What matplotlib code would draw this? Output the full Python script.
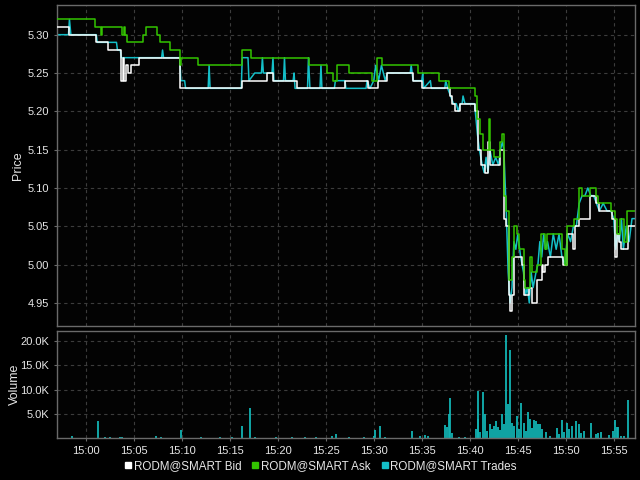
import matplotlib
matplotlib.use("Agg")
import matplotlib.pyplot as plt
import matplotlib.dates as mdates
from matplotlib.lines import Line2D
from matplotlib.ticker import FuncFormatter
import pandas as pd

plt.rcParams["font.family"] = ["Liberation Sans", "DejaVu Sans"]

# minutes after 15:00, price
bid_min = [-3.02, -1.77, 1.04, 2.29, 3.65, 3.85, 4.0, 4.2, 4.375, 4.69, 5.52, 9.85,
           16.25, 18.85, 19.48, 21.98, 26.98, 29.375, 30.42, 31.35, 34.06, 35.0,
           37.92, 38.13, 38.44, 38.96, 40.52, 40.83, 41.15, 41.56, 41.95, 42.08,
           43.13, 43.6, 43.8, 44.06, 44.17, 44.45, 44.6, 45.42, 45.625, 46.15,
           46.46, 46.98, 47.5, 47.6, 47.8, 48.2, 49.69, 50.1, 50.73, 50.94, 51.35,
           52.5, 53.125, 53.44, 54.79, 55.1, 55.3, 55.5, 55.75, 56.5, 57.3]
bid_px = [5.31, 5.30, 5.29, 5.28, 5.24, 5.27, 5.24, 5.26, 5.25, 5.26, 5.27, 5.23,
          5.24, 5.25, 5.24, 5.23, 5.24, 5.23, 5.24, 5.25, 5.24, 5.23,
          5.22, 5.21, 5.20, 5.21, 5.20, 5.15, 5.13, 5.12, 5.16, 5.13,
          5.15, 5.06, 5.05, 4.96, 4.94, 4.96, 5.01, 5.00, 4.96, 4.97,
          4.95, 4.98, 5.00, 4.99, 5.00, 5.01, 5.00, 5.04, 5.02, 5.05, 5.06,
          5.09, 5.08, 5.07, 5.06, 5.01, 5.04, 5.03, 5.02, 5.05, 5.05]

ask_min = [-3.02, 0.94, 1.56, 1.66, 3.75, 3.95, 4.1, 4.3, 5.94, 6.25, 7.40, 7.71,
           8.75, 9.79, 9.95, 11.67, 16.25, 17.19, 23.23, 25.10, 25.73, 26.2, 27.40,
           29.79, 30.31, 30.83, 34.58, 36.77, 37.81, 40.52, 40.8, 41.1, 41.35,
           41.98, 42.1, 42.5, 43.13, 43.33, 43.55, 43.8, 44.1, 44.4, 44.6, 44.9,
           45.1, 45.6, 45.8, 46.3, 46.45, 46.98, 47.4, 47.8, 48.0, 49.6, 49.9,
           50.1, 50.9, 51.4, 51.67, 52.5, 53.125, 53.33, 54.69, 55.1, 55.3, 55.6,
           56.1, 56.4, 57.3]
ask_px = [5.32, 5.31, 5.30, 5.31, 5.30, 5.31, 5.30, 5.29, 5.30, 5.31, 5.30, 5.29,
          5.28, 5.26, 5.27, 5.26, 5.28, 5.27, 5.26, 5.25, 5.24, 5.26, 5.25,
          5.24, 5.27, 5.26, 5.25, 5.24, 5.23, 5.22, 5.19, 5.17, 5.15,
          5.19, 5.15, 5.14, 5.16, 5.17, 5.09, 5.07, 4.98, 5.01, 5.05, 5.04,
          5.02, 4.98, 4.97, 5.01, 4.99, 5.00, 5.04, 5.02, 5.04, 5.02, 5.00,
          5.05, 5.06, 5.10, 5.09, 5.10, 5.09, 5.08, 5.07, 5.06, 5.04, 5.06,
          5.03, 5.07, 5.07]

trade_min = [-3.02, -1.8, -1.7, -1.55, 1.1, 1.2, 3.2, 3.3, 3.6, 3.7, 5.5,
             7.9, 8.0, 8.1, 9.8, 9.9, 10.3, 10.4, 12.75, 12.85, 12.95, 16.2, 16.3,
             16.9, 17.0, 17.6, 18.3, 18.4, 18.5, 19.4, 19.5, 19.6, 20.6, 20.7, 20.8,
             21.6, 21.7, 21.8, 23.1, 23.2, 23.35, 24.4, 24.5, 24.6, 25.9, 26.0,
             27.0, 27.1, 29.2, 29.3, 29.6, 30.0, 30.2, 30.5, 30.8, 31.2, 31.4,
             33.8, 33.9, 34.1, 35.0, 35.1, 35.2, 35.9, 36.0, 37.4, 37.5, 37.7,
             38.0, 38.3, 38.6, 38.8, 39.0, 39.2, 39.3, 39.5, 40.5, 40.8, 41.0,
             41.3, 41.5, 41.7, 41.9, 42.1, 42.4, 42.7, 43.0, 43.2, 43.4, 43.55,
             43.8, 44.0, 44.2, 44.4, 44.6, 44.8, 45.0, 45.3, 45.6, 45.8, 46.0,
             46.2, 46.4, 46.6, 46.9, 47.1, 47.3, 47.5, 47.7, 47.9, 48.1, 48.4,
             48.7, 49.0, 49.3, 49.6, 49.9, 50.2, 50.5, 50.8, 51.1, 51.4, 51.7,
             52.0, 52.3, 52.6, 52.9, 53.2, 53.5, 53.9, 54.3, 54.7, 55.0, 55.2,
             55.4, 55.6, 55.8, 56.0, 56.3, 56.6, 56.9, 57.3]
trade_px = [5.30, 5.30, 5.32, 5.30, 5.30, 5.29, 5.29, 5.28, 5.28, 5.27, 5.27,
            5.27, 5.28, 5.27, 5.27, 5.24, 5.24, 5.23, 5.23, 5.26, 5.23, 5.23, 5.27,
            5.27, 5.24, 5.25, 5.25, 5.27, 5.25, 5.25, 5.27, 5.24, 5.24, 5.27, 5.24,
            5.24, 5.25, 5.23, 5.23, 5.27, 5.23, 5.23, 5.26, 5.23, 5.23, 5.24,
            5.24, 5.23, 5.23, 5.24, 5.23, 5.24, 5.26, 5.24, 5.26, 5.24, 5.25,
            5.25, 5.26, 5.24, 5.24, 5.25, 5.23, 5.24, 5.23, 5.23, 5.24, 5.23,
            5.22, 5.21, 5.21, 5.20, 5.21, 5.21, 5.22, 5.21, 5.21, 5.17, 5.15,
            5.13, 5.12, 5.14, 5.12, 5.15, 5.13, 5.14, 5.13, 5.15, 5.16, 5.15,
            5.07, 4.99, 4.95, 4.97, 5.03, 5.02, 5.04, 5.01, 4.99, 4.96, 4.97,
            4.95, 4.99, 4.97, 4.99, 5.00, 5.03, 5.01, 5.04, 5.02, 5.03, 5.01,
            5.04, 5.02, 5.04, 5.01, 5.00, 5.04, 5.03, 5.05, 5.05, 5.08, 5.09,
            5.09, 5.10, 5.09, 5.09, 5.08, 5.07, 5.08, 5.07, 5.07, 5.06, 5.02,
            5.04, 5.03, 5.06, 5.02, 5.05, 5.03, 5.06, 5.06]

vol_min = [-1.44, 1.25, 2.0, 2.5, 3.6, 3.8, 7.3, 7.8, 9.88, 12.0, 14.0, 15.2,
           16.3, 17.06, 17.6, 19.8, 21.5, 22.8, 24.0, 25.6, 26.1, 27.4, 29.0,
           30.0, 30.16, 30.6, 31.2, 33.96, 34.8, 35.3, 35.7, 37.4, 37.6, 37.8,
           37.9, 38.1, 38.9, 39.5, 40.7, 40.87, 40.9, 41.1, 41.34, 41.55, 41.8,
           42.06, 42.3, 42.5, 42.7, 42.9, 43.1, 43.33, 43.54, 43.75, 43.95, 44.19,
           44.4, 44.6, 44.9, 45.1, 45.38, 45.66, 45.9, 46.02, 46.3, 46.5, 46.7,
           46.9, 47.1, 47.3, 47.5, 47.9, 48.4, 49.06, 49.3, 49.6, 49.8, 50.1,
           50.3, 50.7, 51.1, 51.4, 51.6, 51.9, 52.6, 53.1, 53.4, 53.7, 54.5,
           54.9, 55.16, 55.3, 55.46, 55.8, 56.1, 56.5]
vol_val = [400, 3500, 150, 200, 300, 300, 400, 200, 1600, 150, 200, 250,
           2400, 6200, 250, 200, 150, 250, 150, 400, 760, 200, 300,
           400, 1700, 2500, 200, 1500, 400, 700, 500, 2700, 2200, 4900,
           8200, 1000, 300, 200, 1800, 4000, 9800, 1200, 9400, 5000, 1500,
           2900, 1800, 2500, 3500, 2200, 1600, 4900, 2800, 21200, 7000, 18100,
           3000, 2500, 4500, 1800, 7200, 3000, 1500, 5300, 4000, 2000, 3800,
           3500, 2800, 2800, 1800, 1200, 500, 2000, 800, 3700, 1200, 3200,
           1800, 2500, 3500, 2900, 1000, 1500, 3200, 800, 1000, 1200, 600,
           1500, 3700, 2300, 2300, 500, 400, 7800]

base = pd.Timestamp("2024-01-05 15:00")


def to_time(minutes):
    return base + pd.to_timedelta(minutes, unit="min")


bg = "#000000"
fg = "#e6e6e6"
grid_kw = dict(color="#3c3c3c", linestyle=(0, (3, 3)), linewidth=0.8)

fig = plt.figure(figsize=(6.4, 4.8), dpi=100, facecolor=bg)
ax = fig.add_axes([0.089, 0.321, 0.903, 0.669], facecolor="#030303")
axv = fig.add_axes([0.089, 0.0875, 0.903, 0.223], facecolor="#030303", sharex=ax)

ax.plot(to_time(trade_min), trade_px, color="#14bfc8", lw=1.1, zorder=2)
ax.plot(to_time(bid_min), bid_px, color="#ffffff", lw=1.1, drawstyle="steps-post", zorder=3)
ax.plot(to_time(ask_min), ask_px, color="#33c400", lw=1.1, drawstyle="steps-post", zorder=4)

axv.vlines(to_time(vol_min), 0, vol_val, color="#12b4b4", lw=1.3)

ax.set_ylim(4.92, 5.339)
ax.set_yticks([4.95, 5.00, 5.05, 5.10, 5.15, 5.20, 5.25, 5.30])
ax.yaxis.set_major_formatter(FuncFormatter(lambda v, p: f"{v:.2f}"))
axv.set_ylim(0, 22100)
axv.set_yticks([5000, 10000, 15000, 20000])
axv.yaxis.set_major_formatter(FuncFormatter(lambda v, p: f"{v / 1000:.1f}K"))

axv.set_xlim(to_time(-3.0), to_time(57.2))
axv.xaxis.set_major_locator(mdates.MinuteLocator(byminute=range(0, 60, 5)))
axv.xaxis.set_major_formatter(mdates.DateFormatter("%H:%M"))
ax.tick_params(axis="x", labelbottom=False)

for a in (ax, axv):
    a.grid(True, **grid_kw)
    a.set_axisbelow(True)
    a.tick_params(colors="#6a6a6a", labelcolor=fg, labelsize=8, length=2.5, width=0.8, pad=3)
    for s in a.spines.values():
        s.set_color("#6a6a6a")
        s.set_linewidth(1.0)
ax.tick_params(axis="x", length=0)

ax.set_ylabel("Price", color=fg, fontsize=9, labelpad=3)
axv.set_ylabel("Volume", color=fg, fontsize=9, labelpad=0)

handles = [Line2D([], [], marker="s", ls="none", color=c, markersize=4)
           for c in ("#ffffff", "#33c400", "#14bfc8")]
fig.legend(handles, ["RODM@SMART Bid", "RODM@SMART Ask", "RODM@SMART Trades"],
           loc="center", bbox_to_anchor=(0.5, 0.029), ncol=3, frameon=False,
           fontsize=8.4, labelcolor=fg, handletextpad=0.1, columnspacing=0.8,
           handlelength=0.8)

fig.savefig("out.png", dpi=100, facecolor=bg)
